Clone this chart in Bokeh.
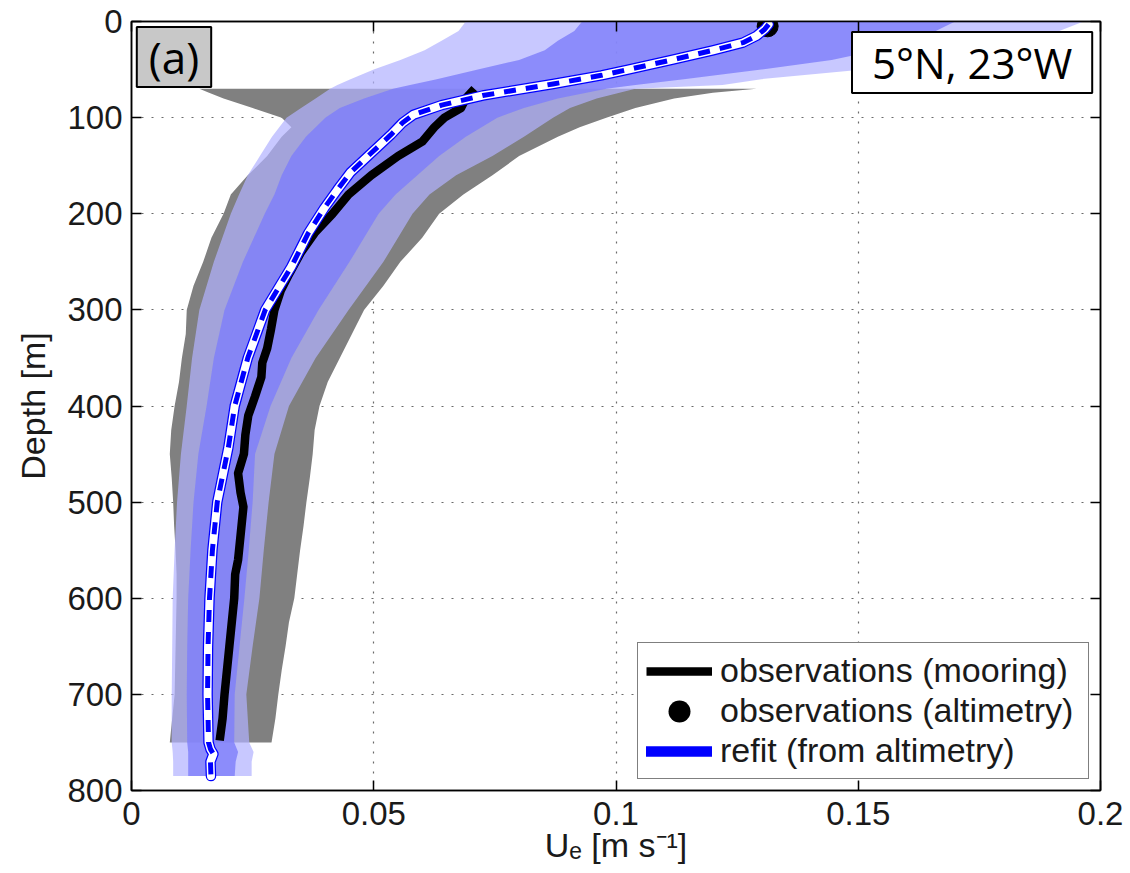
from bokeh.plotting import figure
from bokeh.models import (Range1d, FixedTicker, LinearAxis, Label, Legend,
                          LegendItem)
from bokeh.embed import file_html
from bokeh.resources import INLINE

# ---------------- data ----------------
# model spread bands (outer = light blue, inner = medium blue)
band_depth = [0, 10, 20, 30, 40, 50, 60, 66, 70, 80, 90, 100, 120, 140, 160,
              180, 200, 250, 300, 350, 400, 450, 500, 550, 600, 650, 700, 750,
              760, 770, 785]
outer_left = [0.069, 0.0675, 0.064, 0.0605, 0.0555, 0.050, 0.0452, 0.0425,
              0.041, 0.038, 0.035, 0.032, 0.029, 0.0265, 0.024, 0.0222, 0.0205,
              0.017, 0.014, 0.0125, 0.0114, 0.0102, 0.0094, 0.0089, 0.0085,
              0.0084, 0.0083, 0.0083, 0.0085, 0.0086, 0.0086]
outer_right = [0.1965, 0.1915, 0.184, 0.176, 0.166, 0.151, 0.130, 0.122,
               0.104, 0.096, 0.0905, 0.087, 0.081, 0.0745, 0.067, 0.0615,
               0.058, 0.052, 0.0448, 0.038, 0.0325, 0.0295, 0.0283, 0.0273,
               0.0264, 0.025, 0.0237, 0.0243, 0.0252, 0.0248, 0.0248]
inner_left = [0.093, 0.0914, 0.088, 0.0853, 0.080, 0.0715, 0.063, 0.0575,
              0.054, 0.048, 0.043, 0.040, 0.036, 0.033, 0.031, 0.0295, 0.0275,
              0.023, 0.0192, 0.017, 0.0155, 0.0138, 0.0128, 0.0122, 0.0117,
              0.0115, 0.0114, 0.0115, 0.0117, 0.0117, 0.0117]
inner_right = [0.170, 0.166, 0.161, 0.154, 0.1445, 0.130, 0.114, 0.104,
               0.098, 0.088, 0.081, 0.0755, 0.069, 0.0635, 0.059, 0.0545,
               0.051, 0.045, 0.0386, 0.033, 0.0287, 0.0255, 0.0250, 0.0242,
               0.0233, 0.0223, 0.0213, 0.0212, 0.0220, 0.0215, 0.0213]

# mooring observation spread (gray)
moor_band_depth = [70, 74, 80, 90, 100, 110, 120, 140, 160, 180, 200, 225, 250,
                   275, 300, 325, 350, 375, 400, 425, 450, 475, 500, 525, 550,
                   575, 600, 625, 650, 675, 700, 725, 750]
moor_band_left = [0.014, 0.016, 0.019, 0.025, 0.031, 0.033, 0.031, 0.028,
                  0.024, 0.0205, 0.019, 0.0165, 0.0148, 0.0128, 0.0114, 0.0112,
                  0.0104, 0.0098, 0.0089, 0.0082, 0.0079, 0.0083, 0.0086,
                  0.0088, 0.0091, 0.0093, 0.0093, 0.0092, 0.0091, 0.0090,
                  0.0089, 0.0084, 0.0079]
moor_band_right = [0.129, 0.120, 0.112, 0.104, 0.098, 0.0925, 0.088, 0.080,
                   0.0745, 0.0685, 0.0635, 0.060, 0.0555, 0.052, 0.048, 0.0455,
                   0.043, 0.0405, 0.0388, 0.0378, 0.0374, 0.0368, 0.0361,
                   0.0355, 0.0348, 0.0342, 0.0336, 0.0325, 0.0318, 0.0310,
                   0.0303, 0.0297, 0.0289]

# mooring observations (black line)
moor_depth = [70, 80, 90, 100, 110, 125, 140, 160, 180, 200, 220, 240, 265,
              280, 300, 320, 340, 355, 370, 390, 410, 430, 450, 470, 490, 505,
              520, 540, 560, 575, 600, 625, 650, 675, 700, 725, 748]
moor_u = [0.0708, 0.069, 0.068, 0.0646, 0.0625, 0.060, 0.055, 0.0495, 0.0448,
          0.0415, 0.0378, 0.035, 0.0323, 0.0308, 0.0295, 0.0288, 0.0280,
          0.0270, 0.0268, 0.0255, 0.0241, 0.0235, 0.0232, 0.0220, 0.0225,
          0.0231, 0.0228, 0.0224, 0.0220, 0.0214, 0.0212, 0.0207, 0.0202,
          0.0197, 0.0192, 0.0188, 0.0182]

# altimetry observation (dot)
alt_depth = [5]
alt_u = [0.1313]

# refit from altimetry
refit_depth = [3, 8, 15, 22, 30, 40, 50, 56, 65, 77, 87, 97, 105, 118, 140,
               157, 175, 194, 220, 255, 300, 350, 400, 443, 500, 550, 600, 650,
               700, 750, 757, 762, 770, 785]
refit_u = [0.1315, 0.1307, 0.129, 0.1262, 0.120, 0.1115, 0.1025, 0.097, 0.087,
           0.0725, 0.0640, 0.0582, 0.0560, 0.0535, 0.0488, 0.0452, 0.0425,
           0.0398, 0.0365, 0.0330, 0.0276, 0.0240, 0.0213, 0.0200, 0.0177,
           0.0167, 0.0161, 0.0158, 0.0157, 0.0159, 0.0163, 0.0169, 0.0163,
           0.0164]

x_ticks = [0, 0.05, 0.1, 0.15, 0.2]
x_tick_labels = ["0", "0.05", "0.1", "0.15", "0.2"]
y_ticks = [0, 100, 200, 300, 400, 500, 600, 700, 800]
y_tick_labels = ["0", "100", "200", "300", "400", "500", "600", "700", "800"]

legend_labels = ["observations (mooring)", "observations (altimetry)",
                 "refit (from altimetry)"]
panel_tag = "(a)"
site_tag = "5°N, 23°W"
x_title = "U\u2091 [m s\u207b\u00b9]"
y_title = "Depth [m]"

# ---------------- figure ----------------
FONT = "Liberation Sans"
TXT = "#1a1a1a"

p = figure(width=1130, height=873, output_backend="svg", toolbar_location=None,
           x_range=Range1d(0, 0.2), y_range=Range1d(800, 0),
           min_border_left=131, min_border_right=30, min_border_top=21,
           min_border_bottom=83)
p.background_fill_color = "white"
p.border_fill_color = "white"
p.outline_line_color = "black"
p.outline_line_width = 1.5

xt = FixedTicker(ticks=x_ticks)
yt = FixedTicker(ticks=y_ticks)

for ax in (p.xaxis[0], p.yaxis[0]):
    ax.major_tick_in = 10
    ax.major_tick_out = 0
    ax.minor_tick_in = 0
    ax.minor_tick_out = 0
    ax.axis_line_color = "black"
    ax.axis_line_width = 1.5
    ax.major_tick_line_width = 1.5
    ax.major_label_text_font = FONT
    ax.major_label_text_font_size = "33px"
    ax.major_label_text_color = TXT
    ax.axis_label_text_font = FONT
    ax.axis_label_text_font_size = "34px"
    ax.axis_label_text_font_style = "normal"
    ax.axis_label_text_color = TXT

p.xaxis[0].ticker = xt
p.xaxis[0].major_label_overrides = dict(zip(x_ticks, x_tick_labels))
p.xaxis[0].major_label_standoff = 11
p.xaxis[0].axis_label = x_title
p.xaxis[0].axis_label_standoff = -2
p.yaxis[0].ticker = yt
p.yaxis[0].major_label_overrides = dict(zip(y_ticks, y_tick_labels))
p.yaxis[0].major_label_standoff = 9
p.yaxis[0].axis_label = y_title
p.yaxis[0].axis_label_standoff = 12

for loc, tk, vals in (("right", yt, y_ticks), ("above", xt, x_ticks)):
    ax = LinearAxis(ticker=tk, major_label_overrides={v: "" for v in vals},
                    major_tick_in=10, major_tick_out=0, minor_tick_in=0,
                    minor_tick_out=0, axis_line_color="black",
                    axis_line_width=1.5, major_tick_line_width=1.5,
                    major_label_standoff=0, major_label_text_font_size="10px")
    p.add_layout(ax, loc)

p.xgrid.ticker = xt
p.ygrid.ticker = yt
for g in (p.xgrid[0], p.ygrid[0]):
    g.grid_line_color = "#6a6a6a"
    g.grid_line_dash = "2 8"
    g.grid_line_width = 1.2

# bands
p.harea(x1=moor_band_left, x2=moor_band_right, y=moor_band_depth,
        fill_color="#808080", fill_alpha=1.0)
p.harea(x1=outer_left, x2=outer_right, y=band_depth,
        fill_color="#b1b1ff", fill_alpha=0.71)
p.harea(x1=inner_left, x2=inner_right, y=band_depth,
        fill_color="#7e7efa", fill_alpha=0.81)

# mooring line
r_moor = p.line(moor_u, moor_depth, line_color="black", line_width=8.5,
                line_cap="butt", line_join="round")
# altimetry dot
p.scatter(alt_u, alt_depth, size=21, fill_color="black", line_color="black")
# legend proxy for the dot: a single round dash in the middle of the sample
r_alt_leg = p.line(alt_u, alt_depth, line_color="black", line_width=22,
                   line_cap="round", line_dash="0 200", line_dash_offset=167)
# refit: blue outline, white core, blue dashes
r_refit = p.line(refit_u, refit_depth, line_color="#0000ff", line_width=10.5,
                 line_join="round", line_cap="round")
p.line(refit_u, refit_depth, line_color="white", line_width=8,
       line_join="round", line_cap="round")
p.line(refit_u, refit_depth, line_color="#0000ff", line_width=5,
       line_dash="12 10", line_join="round")

legend = Legend(items=[LegendItem(label=legend_labels[0], renderers=[r_moor]),
                       LegendItem(label=legend_labels[1], renderers=[r_alt_leg]),
                       LegendItem(label=legend_labels[2], renderers=[r_refit])],
                location="bottom_right")
legend.label_text_font = FONT
legend.label_text_font_size = "34px"
legend.label_text_color = TXT
legend.glyph_width = 66
legend.glyph_height = 36
legend.label_standoff = 8
legend.label_width = 360
legend.padding = 8
legend.spacing = 1
legend.margin = 11
legend.border_line_color = "black"
legend.border_line_width = 1.5
legend.background_fill_color = "white"
legend.background_fill_alpha = 1.0
p.add_layout(legend)

# panel tag and site tag boxes
p.add_layout(Label(x=0.00877, y=37, text=panel_tag, text_align="center",
                   text_baseline="middle", text_font="Open Sans",
                   text_font_size="44px", text_color="black",
                   background_fill_color="#c8c8c8", border_line_color="black",
                   border_line_width=2,
                   padding=dict(left=12, right=12, top=0, bottom=0)))
p.add_layout(Label(x=0.1735, y=42.7, text=site_tag, text_align="center",
                   text_baseline="middle", text_font="Open Sans",
                   text_font_size="42px", text_color="black",
                   background_fill_color="white", border_line_color="black",
                   border_line_width=2,
                   padding=dict(left=20, right=20, top=2, bottom=2)))

open("out.html", "w").write(file_html(p, INLINE))
